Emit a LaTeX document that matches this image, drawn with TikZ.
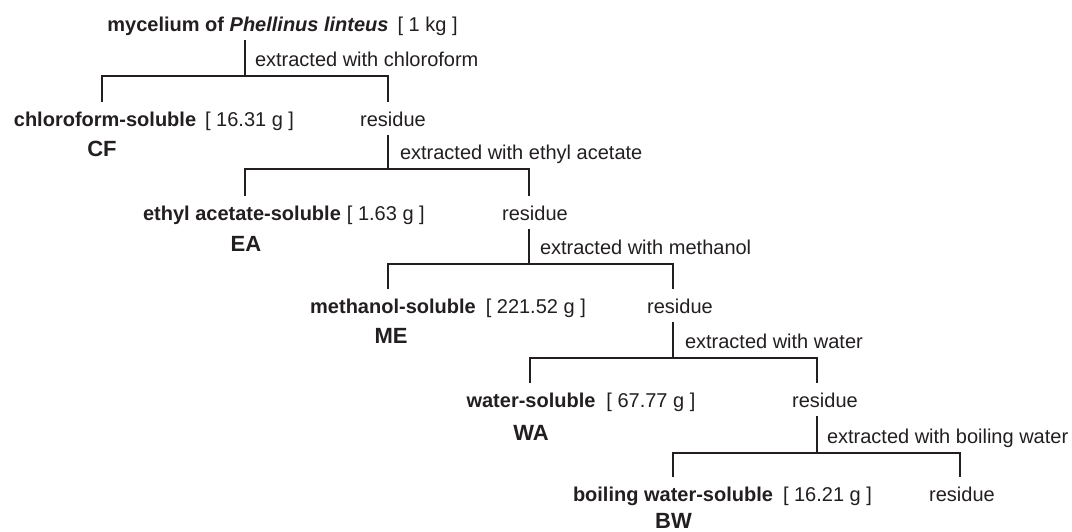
\documentclass[tikz,border=0pt]{standalone}
\usepackage{fontspec}
\setmainfont{Liberation Sans}
\definecolor{ink}{RGB}{35,31,32}
\begin{document}
\begin{tikzpicture}[x=1pt,y=-1pt,
  every node/.style={inner sep=0pt, outer sep=0pt, text=ink, font=\fontsize{20}{24}\selectfont},
  lbl/.style={anchor=base, text height=19.5pt, text depth=4.5pt, outer ysep=4.5pt},
  namelbl/.style={lbl, font=\fontsize{20}{24}\selectfont\bfseries},
  abbr/.style={anchor=base, font=\fontsize{22}{26}\selectfont\bfseries},
  mass/.style={anchor=base west},
  ext/.style={anchor=base west},
  conn/.style={draw=ink, line width=1.5pt}
]
\fill[white] (0,0) rectangle (1072,531);
\useasboundingbox (0,0) rectangle (1072,531);

% junction coordinates
\coordinate (hl1) at (102,76);  \coordinate (hm1) at (245,76);  \coordinate (hr1) at (388,76);
\coordinate (hl2) at (245,169); \coordinate (hm2) at (388,169); \coordinate (hr2) at (529,169);
\coordinate (hl3) at (388,264); \coordinate (hm3) at (529,264); \coordinate (hr3) at (673,264);
\coordinate (hl4) at (530,358); \coordinate (hm4) at (673,358); \coordinate (hr4) at (817,358);
\coordinate (hl5) at (673,453); \coordinate (hm5) at (817,453); \coordinate (hr5) at (960,453);

% title
\node[namelbl] (title) at (248,31) {mycelium of \textit{Phellinus linteus}};
\node[mass] (titlem) at ([xshift=9pt]title.base east) {[ 1 kg ]};

% level 1
\node[ext] (e1) at (255,66) {extracted with chloroform};
\node[namelbl] (cf) at (105,126) {chloroform-soluble};
\node[mass] (cfm) at ([xshift=9pt]cf.base east) {[ 16.31 g ]};
\node[abbr] (cfa) at (102,156) {CF};
\node[lbl] (r1) at (393,126) {residue};

% level 2
\node[ext] (e2) at (400,159) {extracted with ethyl acetate};
\node[namelbl] (ea) at (242,220) {ethyl acetate-soluble};
\node[mass] (eam) at ([xshift=6pt]ea.base east) {[ 1.63 g ]};
\node[abbr] (eaa) at (246,251) {EA};
\node[lbl] (r2) at (535,220) {residue};

% level 3
\node[ext] (e3) at (540,254) {extracted with methanol};
\node[namelbl] (me) at (393,313) {methanol-soluble};
\node[mass] (mem) at ([xshift=10pt]me.base east) {[ 221.52 g ]};
\node[abbr] (mea) at (391,343) {ME};
\node[lbl] (r3) at (680,313) {residue};

% level 4
\node[ext] (e4) at (685,348) {extracted with water};
\node[namelbl] (wa) at (531,407) {water-soluble};
\node[mass] (wam) at ([xshift=11pt]wa.base east) {[ 67.77 g ]};
\node[abbr] (waa) at (531,440) {WA};
\node[lbl] (r4) at (825,407) {residue};

% level 5
\node[ext] (e5) at (827,443) {extracted with boiling water};
\node[namelbl] (bw) at (673,501) {boiling water-soluble};
\node[mass] (bwm) at ([xshift=10pt]bw.base east) {[ 16.21 g ]};
\node[abbr] (bwa) at (673.5,528) {BW};
\node[lbl] (r5) at (962,501) {residue};

% connectors
\draw[conn] (title.south -| hm1) -- (hm1);
\draw[conn] (cf.north -| hl1) |- (hr1) -- (hr1 |- r1.north);
\draw[conn] (r1.south -| hm2) -- (hm2);
\draw[conn] (ea.north -| hl2) |- (hr2) -- (hr2 |- r2.north);
\draw[conn] (r2.south -| hm3) -- (hm3);
\draw[conn] (me.north -| hl3) |- (hr3) -- (hr3 |- r3.north);
\draw[conn] (r3.south -| hm4) -- (hm4);
\draw[conn] (wa.north -| hl4) |- (hr4) -- (hr4 |- r4.north);
\draw[conn] (r4.south -| hm5) -- (hm5);
\draw[conn] (bw.north -| hl5) |- (hr5) -- (hr5 |- r5.north);
\end{tikzpicture}
\end{document}
